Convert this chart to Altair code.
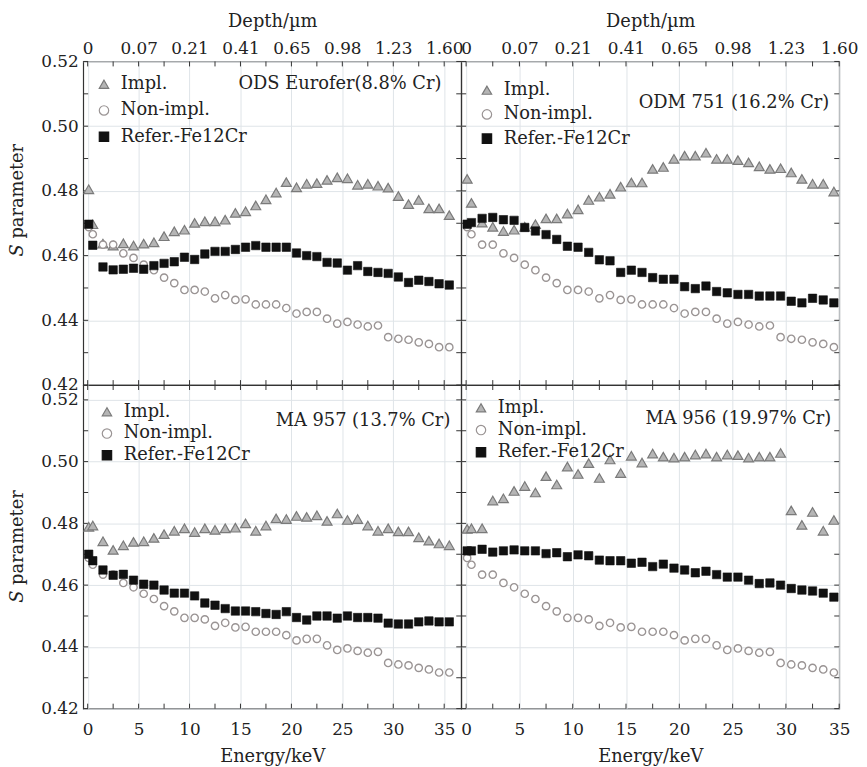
import altair as alt
import pandas as pd

# ---------------- data ----------------
energy = [0.1, 0.5, 1.5, 2.5, 3.5, 4.5, 5.5, 6.5, 7.5, 8.5, 9.5, 10.5, 11.5, 12.5,
          13.5, 14.5, 15.5, 16.5, 17.5, 18.5, 19.5, 20.5, 21.5, 22.5, 23.5, 24.5,
          25.5, 26.5, 27.5, 28.5, 29.5, 30.5, 31.5, 32.5, 33.5, 34.5, 35.5]

series_names = ["Impl.", "Non-impl.", "Refer.-Fe12Cr"]

non_impl = [0.4688, 0.4666, 0.4634, 0.4634, 0.4607, 0.4593, 0.4572, 0.4555, 0.4532,
            0.4515, 0.4494, 0.4494, 0.4489, 0.4468, 0.4478, 0.4463, 0.4465, 0.4449,
            0.4449, 0.4449, 0.4438, 0.4421, 0.4426, 0.4426, 0.4405, 0.4390, 0.4395,
            0.4387, 0.4381, 0.4384, 0.4348, 0.4343, 0.4340, 0.4332, 0.4327, 0.4317,
            0.4317]

ods_impl = [0.4805, 0.4697, 0.4637, 0.4631, 0.4638, 0.4631, 0.4637, 0.4641, 0.4660,
            0.4675, 0.4680, 0.4701, 0.4706, 0.4706, 0.4711, 0.4732, 0.4737, 0.4755,
            0.4774, 0.4795, 0.4827, 0.4811, 0.4822, 0.4824, 0.4834, 0.4842, 0.4839,
            0.4819, 0.4822, 0.4816, 0.4810, 0.4784, 0.4759, 0.4772, 0.4746, 0.4746,
            0.4725]
ods_ref = [0.4697, 0.4632, 0.4565, 0.4556, 0.4558, 0.4561, 0.4558, 0.4569, 0.4576,
           0.4581, 0.4595, 0.4588, 0.4605, 0.4613, 0.4613, 0.4619, 0.4626, 0.4631,
           0.4626, 0.4626, 0.4626, 0.4608, 0.4600, 0.4597, 0.4579, 0.4577, 0.4555,
           0.4569, 0.4551, 0.4548, 0.4545, 0.4534, 0.4517, 0.4524, 0.4520, 0.4513,
           0.4509]

odm_impl = [0.4837, 0.4763, 0.4702, 0.4689, 0.4676, 0.4680, 0.4689, 0.4697, 0.4715,
            0.4715, 0.4730, 0.4743, 0.4772, 0.4782, 0.4791, 0.4813, 0.4826, 0.4826,
            0.4868, 0.4874, 0.4899, 0.4909, 0.4909, 0.4918, 0.4899, 0.4899, 0.4895,
            0.4888, 0.4876, 0.4868, 0.4870, 0.4857, 0.4837, 0.4822, 0.4822, 0.4798]
odm_ref = [0.4697, 0.4702, 0.4715, 0.4718, 0.4711, 0.4709, 0.4687, 0.4676, 0.4665,
           0.4650, 0.4629, 0.4626, 0.4610, 0.4587, 0.4584, 0.4548, 0.4555, 0.4548,
           0.4532, 0.4527, 0.4527, 0.4504, 0.4498, 0.4506, 0.4489, 0.4485, 0.4480,
           0.4480, 0.4475, 0.4475, 0.4475, 0.4459, 0.4454, 0.4468, 0.4463, 0.4454]

ma957_impl = [0.4789, 0.4793, 0.4742, 0.4714, 0.4729, 0.4740, 0.4742, 0.4753, 0.4765,
              0.4776, 0.4784, 0.4772, 0.4784, 0.4779, 0.4784, 0.4786, 0.4800, 0.4776,
              0.4793, 0.4816, 0.4814, 0.4824, 0.4821, 0.4826, 0.4808, 0.4832, 0.4811,
              0.4814, 0.4793, 0.4776, 0.4784, 0.4774, 0.4774, 0.4755, 0.4744, 0.4735,
              0.4729]
ma957_ref = [0.4700, 0.4679, 0.4649, 0.4632, 0.4635, 0.4616, 0.4603, 0.4600, 0.4584,
             0.4574, 0.4574, 0.4565, 0.4542, 0.4535, 0.4524, 0.4516, 0.4516, 0.4514,
             0.4508, 0.4505, 0.4514, 0.4495, 0.4487, 0.4500, 0.4500, 0.4493, 0.4500,
             0.4495, 0.4495, 0.4493, 0.4477, 0.4474, 0.4474, 0.4481, 0.4484, 0.4481,
             0.4481]

ma956_impl = [0.4782, 0.4784, 0.4784, 0.4874, 0.4881, 0.4905, 0.4921, 0.4900, 0.4953,
              0.4926, 0.4984, 0.4960, 0.4995, 0.4947, 0.5007, 0.4963, 0.5019, 0.4997,
              0.5026, 0.5016, 0.5013, 0.5016, 0.5023, 0.5026, 0.5016, 0.5023, 0.5021,
              0.5013, 0.5016, 0.5016, 0.5028, 0.4842, 0.4795, 0.4837, 0.4776, 0.4811]
ma956_ref = [0.4711, 0.4711, 0.4716, 0.4707, 0.4711, 0.4714, 0.4711, 0.4711, 0.4702,
             0.4705, 0.4692, 0.4698, 0.4695, 0.4681, 0.4679, 0.4679, 0.4671, 0.4674,
             0.4660, 0.4668, 0.4655, 0.4649, 0.4640, 0.4645, 0.4634, 0.4626, 0.4626,
             0.4616, 0.4605, 0.4607, 0.4600, 0.4589, 0.4584, 0.4581, 0.4574, 0.4561]

panel_titles = ["ODS Eurofer(8.8% Cr)", "ODM 751 (16.2% Cr)",
                "MA 957 (13.7% Cr)", "MA 956 (19.97% Cr)"]

energy_ticks = [0, 5, 10, 15, 20, 25, 30, 35]
depth_labels = ["0", "0.07", "0.21", "0.41", "0.65", "0.98", "1.23", "1.60"]
s_ticks = [0.42, 0.44, 0.46, 0.48, 0.50, 0.52]
minor_e = [0, 2.5, 5, 7.5, 10, 12.5, 15, 17.5, 20, 22.5, 25, 27.5, 30, 32.5, 35]
minor_s = [0.42, 0.43, 0.44, 0.45, 0.46, 0.47, 0.48, 0.49, 0.50, 0.51, 0.52]

# ---------------- styling ----------------
FONT = "DejaVu Serif"
TXT = "#222222"
FRAME = "#333333"
shape_range = ["triangle-up", "circle", "square"]
fill_range = ["#b5b5b5", "#ffffff", "#111111"]
stroke_range = ["#7a7a7a", "#9a9494", "#111111"]
mark_sizes = [100, 55, 72]
mark_sw = [1.2, 1.4, 0.6]
W, H = 382, 327

depth_expr = " : ".join(
    f"datum.value == {t} ? '{l}'" for t, l in zip(energy_ticks, depth_labels)
) + " : ''"


def make_df(impl, ref):
    rows = []
    for name, vals in zip(series_names, [impl, non_impl, ref]):
        for e, s in zip(energy, vals):
            rows.append({"E": e, "S": s, "series": name})
    return pd.DataFrame(rows)


def panel(impl, ref, title, xdom, ydom, top, left, leg_xy, leg_pad, title_xy, ylab_y0):
    df = make_df(impl, ref)
    if top:
        xaxis = alt.Axis(orient="top", values=energy_ticks, labelExpr=depth_expr,
                         title="Depth/\u00b5m", grid=True, ticks=False, domain=False,
                         labelFlush=False, labelPadding=4, titlePadding=9)
    else:
        xaxis = alt.Axis(orient="bottom", values=energy_ticks, format="d",
                         title="Energy/keV", grid=True, ticks=False, domain=False,
                         labelFlush=False, labelPadding=13, titlePadding=10)
    if left:
        yaxis = alt.Axis(values=s_ticks, format=".2f", title=None,
                         grid=True, ticks=False, domain=False, labelFlush=False,
                         labelPadding=5)
    else:
        yaxis = alt.Axis(values=s_ticks, labels=False, title=None, grid=True,
                         ticks=False, domain=False)

    leg = alt.Legend(title=None, orient="none", legendX=leg_xy[0], legendY=leg_xy[1],
                     labelFont=FONT, labelFontSize=18, labelColor=TXT,
                     symbolSize=90, symbolStrokeWidth=1.2, rowPadding=leg_pad,
                     labelOffset=8, padding=0, fillColor="transparent",
                     strokeColor="transparent")
    x = alt.X("E:Q", scale=alt.Scale(domain=xdom, nice=False, zero=False), axis=xaxis)
    y = alt.Y("S:Q", scale=alt.Scale(domain=ydom, nice=False, zero=False), axis=yaxis)
    shape = alt.Shape("series:N", scale=alt.Scale(domain=series_names, range=shape_range), legend=leg)
    fill = alt.Fill("series:N", scale=alt.Scale(domain=series_names, range=fill_range), legend=leg)
    stroke = alt.Stroke("series:N", scale=alt.Scale(domain=series_names, range=stroke_range), legend=leg)

    # inward minor ticks on all four sides
    e_df = pd.DataFrame({"E": [v for v in minor_e if xdom[0] <= v <= xdom[1]]})
    s_df = pd.DataFrame({"S": [v for v in minor_s if ydom[0] <= v <= ydom[1]]})
    tick_layers = [
        alt.Chart(s_df).mark_rule(color=FRAME, strokeWidth=1).encode(
            y=y, x=alt.value(0), x2=alt.value(5)),
        alt.Chart(s_df).mark_rule(color=FRAME, strokeWidth=1).encode(
            y=y, x=alt.value(W - 5), x2=alt.value(W)),
        alt.Chart(e_df).mark_rule(color=FRAME, strokeWidth=1).encode(
            x=x, y=alt.value(0), y2=alt.value(5)),
        alt.Chart(e_df).mark_rule(color=FRAME, strokeWidth=1).encode(
            x=x, y=alt.value(H - 5), y2=alt.value(H)),
    ]

    layers = []
    for name, sz, sw in zip(series_names, mark_sizes, mark_sw):
        layers.append(
            alt.Chart(df).transform_filter(alt.datum.series == name)
            .mark_point(filled=True, size=sz, strokeWidth=sw, opacity=1, clip=True)
            .encode(x=x, y=y, shape=shape, fill=fill, stroke=stroke)
        )
    label = alt.Chart(pd.DataFrame({"t": [title]})).mark_text(
        align="right", baseline="middle", font=FONT, fontSize=18, color=TXT
    ).encode(text="t:N", x=alt.value(title_xy[0]), y=alt.value(title_xy[1]))
    extra = [label]
    if left:
        s_lab = alt.Chart(pd.DataFrame({"t": ["S"]})).mark_text(
            align="left", baseline="middle", angle=270, font=FONT, fontSize=18,
            fontStyle="italic", color=TXT
        ).encode(text="t:N", x=alt.value(-66), y=alt.value(ylab_y0))
        p_lab = alt.Chart(pd.DataFrame({"t": ["parameter"]})).mark_text(
            align="left", baseline="middle", angle=270, font=FONT, fontSize=18,
            color=TXT
        ).encode(text="t:N", x=alt.value(-66), y=alt.value(ylab_y0 - 18))
        extra += [s_lab, p_lab]
    return alt.layer(*tick_layers, *layers, *extra).properties(width=W, height=H)


xl = [-0.44, 36.67]
xr = [-0.46, 35.0]
yt = [0.42, 0.52]
yb = [0.42, 0.5248]

tl = panel(ods_impl, ods_ref, panel_titles[0], xl, yt, True, True, (12, 14), 8.5, (362, 23), 197)
tr = panel(odm_impl, odm_ref, panel_titles[1], xr, yt, True, False, (17, 20), 6.5, (372, 42), 0)
bl = panel(ma957_impl, ma957_ref, panel_titles[2], xl, yb, False, True, (15, 18), 4, (371, 36), 220)
br = panel(ma956_impl, ma956_ref, panel_titles[3], xr, yb, False, False, (11, 14), 4.5, (374, 34), 0)

res_kw = dict(x="independent", y="independent", shape="independent",
              fill="independent", stroke="independent")
leg_kw = dict(shape="independent", fill="independent", stroke="independent")

chart = (
    alt.concat(tl, tr, bl, br, columns=2, spacing=0, bounds="flush")
    .resolve_scale(**res_kw)
    .resolve_legend(**leg_kw)
    .configure(background="white", padding=0)
    .configure_axis(labelFont=FONT, titleFont=FONT, labelFontSize=17, titleFontSize=18,
                    titleFontWeight="normal", labelColor=TXT, titleColor=TXT,
                    gridColor="#dfe4e8", gridWidth=1)
    .configure_legend(labelFont=FONT)
    .configure_text(font=FONT)
    .configure_view(stroke=FRAME, strokeWidth=1.2)
)

chart.save("out.html", embed_options={"renderer": "svg", "actions": False})
